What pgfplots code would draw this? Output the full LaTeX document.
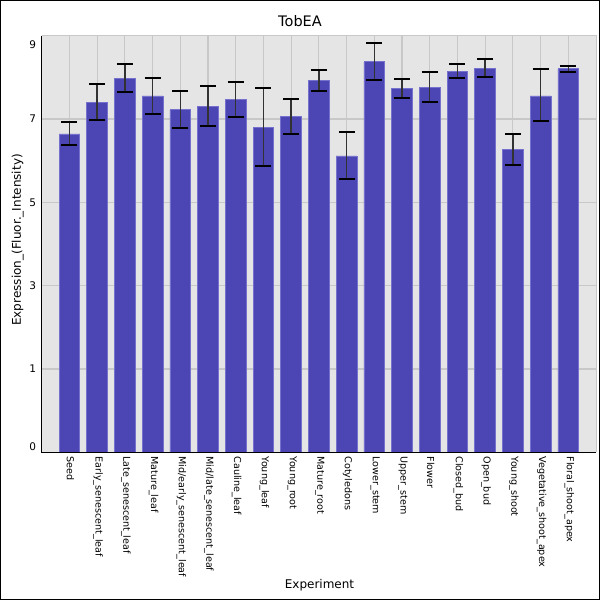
\documentclass[border=0pt]{standalone}
\usepackage{fontspec}
\setmainfont{DejaVu Sans}
\usepackage{pgfplots}
\pgfplotsset{compat=1.18}
\usepackage{pgfplotstable}
\definecolor{barfill}{RGB}{76,69,180}
\definecolor{baredge}{RGB}{118,113,204}
\definecolor{bgc}{RGB}{229,229,229}
\definecolor{gridc}{RGB}{200,200,200}
\definecolor{errc}{RGB}{50,50,50}

\pgfplotstableread{
x y ep em
0 7.605 0.280 0.270
1 8.346 0.454 0.406
2 8.920 0.365 0.311
3 8.513 0.438 0.423
4 8.179 0.461 0.430
5 8.251 0.501 0.455
6 8.418 0.423 0.399
7 7.749 0.948 0.908
8 8.012 0.430 0.407
9 8.872 0.255 0.239
10 7.080 0.566 0.557
11 9.326 0.461 0.423
12 8.681 0.239 0.215
13 8.705 0.374 0.335
14 9.087 0.191 0.150
15 9.159 0.238 0.192
16 7.224 0.374 0.367
17 8.513 0.639 0.597
18 9.159 0.071 0.065
}\data

\begin{document}
\begin{tikzpicture}
\useasboundingbox (0pt,0pt) rectangle (600pt,600pt);
\fill[white] (0pt,0pt) rectangle (600pt,600pt);
\begin{axis}[
  at={(41.7pt,147.7pt)}, anchor=south west,
  scale only axis, width=554.3pt, height=416.6pt,
  xmin=-1, xmax=19, ymin=0, ymax=9.95,
  axis background/.style={fill=bgc},
  axis line style={draw=none},
  major tick length=0pt,
  ytick={1.99,3.98,5.97,7.96},
  yticklabels={1,3,5,7},
  extra y ticks={0.134,9.728},
  extra y tick labels={0,9},
  extra y tick style={grid=none},
  xtick={0,...,18},
  xticklabels={Seed,Early\_senescent\_leaf,Late\_senescent\_leaf,Mature\_leaf,Mid/early\_senescent\_leaf,Mid/late\_senescent\_leaf,Cauline\_leaf,Young\_leaf,Young\_root,Mature\_root,Cotyledons,Lower\_stem,Upper\_stem,Flower,Closed\_bud,Open\_bud,Young\_shoot,Vegetative\_shoot\_apex,Floral\_shoot\_apex},
  xticklabel style={rotate=-90, anchor=west, font=\fontsize{9.6}{10}\selectfont, inner sep=0pt, xshift=4pt, yshift=1pt},
  yticklabel style={font=\fontsize{10.5}{12}\selectfont, xshift=-2pt},
  /pgf/number format/assume math mode=true,
  xmajorgrids, ymajorgrids,
  grid style={gridc, line width=1.2pt},
  ybar, bar width=20.7pt,
  clip=false,
]
\addplot[fill=barfill, draw=baredge, line width=0.7pt,
  error bars/.cd, y dir=both, y explicit,
  error bar style={line width=1.4pt, color=errc},
  error mark options={rotate=90, line width=2pt, mark size=8pt, black}]
  table[x=x, y=y, y error plus=ep, y error minus=em]{\data};
\draw[gridc, line width=1pt] (rel axis cs:0,1) -- (rel axis cs:1,1) -- (rel axis cs:1,0);
\draw[black, line width=1pt] (rel axis cs:0,1) -- (rel axis cs:0,0) -- (rel axis cs:1,0);
\end{axis}
\node[anchor=base, font=\fontsize{14.5}{16}\selectfont] at (300pt,573.3pt) {TobEA};
\node[anchor=base, font=\fontsize{12}{14}\selectfont] at (319.5pt,11pt) {Experiment};
\node[rotate=90, font=\fontsize{12}{14}\selectfont] at (17.7pt,360pt) {Expression\_(Fluor.\_Intensity)};
\draw[black, line width=1pt] (0.5pt,0.5pt) rectangle (599.5pt,599.5pt);
\end{tikzpicture}
\end{document}
